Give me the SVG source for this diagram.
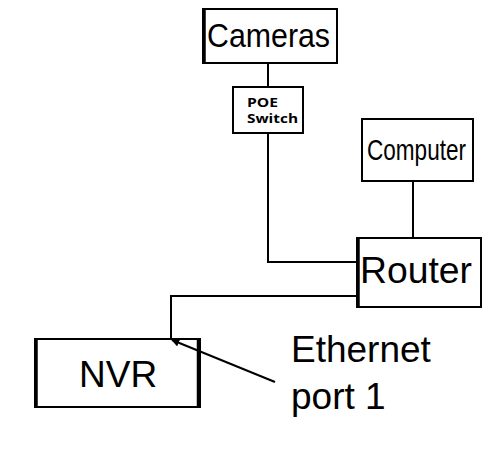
<svg xmlns="http://www.w3.org/2000/svg" width="500" height="468" viewBox="0 0 500 468">
<style>
.box{fill:#fff;stroke:#000;stroke-width:2}
.thick{stroke:#000;stroke-width:3.5}
.lbl{font-family:"Liberation Sans",Arial,sans-serif;fill:#000}
.poe{font-family:"Open Sans","DejaVu Sans",sans-serif;font-weight:bold;font-size:12px;fill:#000}
.wire{fill:none;stroke:#000;stroke-width:2}
</style>
<defs>
<marker id="ah" viewBox="0 0 10 10" refX="9" refY="5" markerWidth="4" markerHeight="4" orient="auto">
<path d="M0,0 L10,5 L0,10 z" fill="#000"/>
</marker>
</defs>
<rect width="500" height="468" fill="#fff"/>
<g id="cameras">
<rect class="box" x="203" y="9" width="134" height="54"/>
<line class="thick" x1="204" y1="8" x2="204" y2="64"/>
<text class="lbl" x="207" y="47" font-size="33" textLength="123" lengthAdjust="spacingAndGlyphs">Cameras</text>
</g>
<g id="poe-switch">
<rect class="box" x="233" y="87" width="70" height="46" stroke-width="1.5"/>
<text class="poe" x="247" y="107" textLength="31" lengthAdjust="spacingAndGlyphs">POE</text>
<text class="poe" x="247" y="123" textLength="51" lengthAdjust="spacingAndGlyphs">Switch</text>
</g>
<g id="computer">
<rect class="box" x="362" y="119" width="111" height="62"/>
<text class="lbl" x="367" y="160" font-size="29" textLength="99" lengthAdjust="spacingAndGlyphs">Computer</text>
</g>
<g id="router">
<rect class="box" x="357" y="238" width="124" height="69"/>
<line class="thick" x1="358" y1="237" x2="358" y2="308"/>
<text class="lbl" x="360" y="283" font-size="36" textLength="112" lengthAdjust="spacingAndGlyphs">Router</text>
</g>
<g id="nvr">
<rect class="box" x="35" y="339" width="165" height="68"/>
<line class="thick" x1="36" y1="338" x2="36" y2="408"/>
<line class="thick" x1="198.5" y1="338" x2="198.5" y2="408"/>
<text class="lbl" x="79" y="387" font-size="37">NVR</text>
</g>
<g id="ethernet-label">
<text class="lbl" x="291" y="362" font-size="37">Ethernet</text>
<text class="lbl" x="291" y="409" font-size="37">port 1</text>
</g>
<g id="connectors">
<path class="wire" d="M268,63 V87"/>
<path class="wire" d="M268,133 V262 H357"/>
<path class="wire" d="M413,181 V238"/>
<path class="wire" d="M357,296 H171 V339"/>
<path class="wire" d="M275,382 L172,340" marker-end="url(#ah)" stroke-width="1.8"/>
</g>
</svg>
